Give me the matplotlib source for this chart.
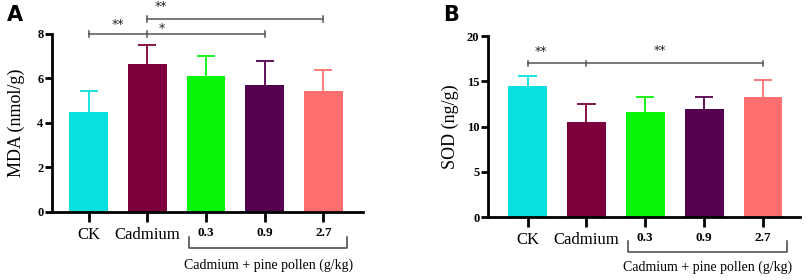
import matplotlib.pyplot as plt

groups = ['CK', 'Cadmium', '0.3', '0.9', '2.7']
colors = ['#0adfe0', '#7d003d', '#0af50a', '#560050', '#ff6f6f']

mda_mean = [4.51, 6.63, 6.13, 5.69, 5.42]
mda_sd = [0.94, 0.89, 0.86, 1.10, 0.95]

sod_mean = [14.47, 10.46, 11.57, 11.97, 13.22]
sod_sd = [1.11, 2.06, 1.69, 1.33, 1.88]

serif = 'Liberation Serif'
x = range(len(groups))

fig = plt.figure(figsize=(8.09, 2.8), dpi=100)
axA = fig.add_axes([0.064, 0.243, 0.385, 0.636])
axB = fig.add_axes([0.603, 0.225, 0.386, 0.646])


def draw_panel(ax, mean, sd, ylim, yticks, ylabel, xlim, yb, yt, lpad):
    for i in x:
        ax.bar(i, mean[i], width=0.66, color=colors[i], zorder=2)
        ax.vlines(i, mean[i], mean[i] + sd[i], color=colors[i], lw=1.3, zorder=1)
        ax.hlines(mean[i] + sd[i], i - 0.155, i + 0.155, color=colors[i], lw=1.3, zorder=1)
    ax.set_ylim(*ylim)
    ax.set_xlim(*xlim)
    ax.set_yticks(yticks)
    ax.set_xticks(list(x))
    ax.set_xticklabels(groups)
    for sp in ['top', 'right']:
        ax.spines[sp].set_visible(False)
    for sp in ['left', 'bottom']:
        ax.spines[sp].set_linewidth(2)
    ax.tick_params(axis='y', width=2, length=5, pad=1)
    ax.tick_params(axis='x', width=2, length=7, pad=4)
    for lab in ax.get_yticklabels():
        lab.set_fontfamily(serif)
        lab.set_fontweight('bold')
        lab.set_fontsize(9)
    for i, lab in enumerate(ax.get_xticklabels()):
        lab.set_fontfamily(serif)
        if i < 2:
            lab.set_fontsize(12)
        else:
            lab.set_fontweight('bold')
            lab.set_fontsize(9.5)
    ax.set_ylabel(ylabel, family=serif, fontsize=13, labelpad=lpad)

    # bracket under the dose groups
    tr = ax.get_xaxis_transform()
    ax.plot([1.71, 1.71, 4.41, 4.41], [yb + 0.06, yb, yb, yb + 0.06],
            color='#444444', lw=1.1, transform=tr, clip_on=False)
    ax.text(3.06, yt, 'Cadmium + pine pollen (g/kg)', transform=tr,
            ha='center', va='center', family=serif, fontsize=10)


def sig_line(ax, x0, x1, y, ticks, dy):
    ax.plot([x0, x1], [y, y], color='#555555', lw=1.1, clip_on=False)
    for t in ticks:
        ax.plot([t, t], [y - dy, y + dy], color='#555555', lw=1.1, clip_on=False)


def star(ax, xs, y, s):
    ax.text(xs, y, s, ha='center', va='center', fontsize=9, color='#222222',
            clip_on=False)


draw_panel(axA, mda_mean, mda_sd, (0, 8), [0, 2, 4, 6, 8], 'MDA (nmol/g)',
           (-0.63, 4.68), -0.202, -0.30, 9)
draw_panel(axB, sod_mean, sod_sd, (0, 20), [0, 5, 10, 15, 20], 'SOD (ng/g)',
           (-0.675, 4.63), -0.195, -0.28, 6)

sig_line(axA, 0, 3, 8.0, [0, 1, 3], 0.12)
sig_line(axA, 1, 4, 8.67, [1, 4], 0.12)
star(axA, 0.5, 8.4, '**')
star(axA, 1.25, 8.25, '*')
star(axA, 1.23, 9.25, '**')

sig_line(axB, 0, 4, 17.0, [0, 1, 4], 0.3)
star(axB, 0.22, 18.3, '**')
star(axB, 2.25, 18.4, '**')

fig.text(0.008, 0.945, 'A', fontsize=15, fontweight='bold', va='center')
fig.text(0.548, 0.945, 'B', fontsize=15, fontweight='bold', va='center')

fig.savefig('out.png', dpi=100)
